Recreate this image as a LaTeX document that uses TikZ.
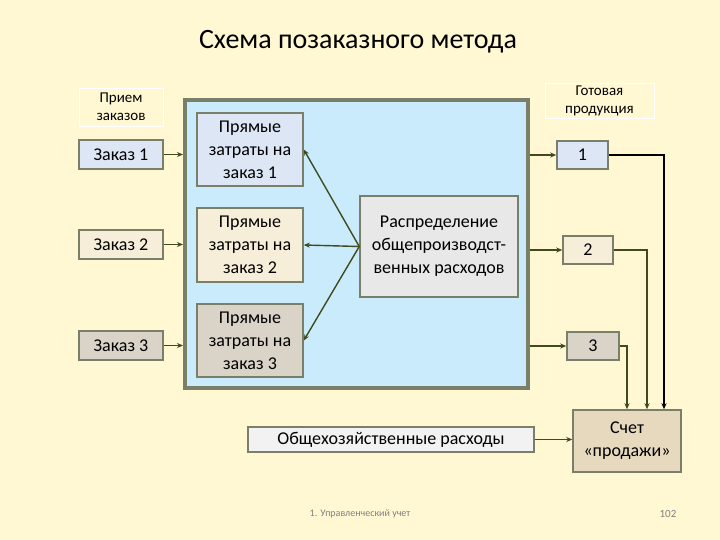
\documentclass[tikz,border=0pt]{standalone}
\usepackage{fontspec}
\setmainfont{Carlito}
\usetikzlibrary{arrows.meta}
\definecolor{bg}{HTML}{FFF8D2}
\definecolor{big}{HTML}{C9EBFB}
\definecolor{frm}{HTML}{7A7F6A}
\definecolor{cb}{HTML}{DCE6F5}
\definecolor{cc}{HTML}{F7EED9}
\definecolor{cg}{HTML}{D9D3C8}
\definecolor{cs}{HTML}{E6D9BE}
\definecolor{ln}{HTML}{3F4A1E}
\begin{document}
\begin{tikzpicture}[x=1pt,y=-1pt,
 bx/.style={draw=frm,line width=1.5pt,align=center,inner sep=0pt,font=\fontsize{18}{23}\selectfont},
 lab/.style={draw=white,line width=0.8pt,align=center,inner sep=0pt,font=\fontsize{15}{18}\selectfont},
 ar/.style={draw=ln,line width=1.4pt,-{Stealth[length=6pt,width=5pt]}}]
\fill[bg] (0,0) rectangle (720,540);
\useasboundingbox (0,0) rectangle (720,540);
\node[font=\fontsize{28}{30}\selectfont] (t) at (358,42) {Схема позаказного метода};
\node[draw=frm,line width=4pt,fill=big,minimum width=343pt,minimum height=288pt,inner sep=0pt] (B) at (356.5,244) {};
\node[lab,minimum width=84pt,minimum height=38pt] (pz) at (121,107) {Прием\\заказов};
\node[bx,fill=cb,minimum width=84pt,minimum height=29pt] (z1) at (121,154.5) {Заказ 1};
\node[bx,fill=cc,minimum width=84pt,minimum height=29pt] (z2) at (121,244.5) {Заказ 2};
\node[bx,fill=cg,minimum width=84pt,minimum height=29pt] (z3) at (121,345.5) {Заказ 3};
\node[bx,fill=cb,minimum width=106pt,minimum height=73pt] (p1) at (250,149.5) {Прямые\\затраты на\\заказ 1};
\node[bx,fill=cc,minimum width=106pt,minimum height=74pt] (p2) at (250,245) {Прямые\\затраты на\\заказ 2};
\node[bx,fill=cg,minimum width=106pt,minimum height=73pt] (p3) at (250,340.5) {Прямые\\затраты на\\заказ 3};
\node[bx,fill=gray!18,minimum width=158pt,minimum height=101pt] (R) at (439,246.5) {Распределение\\общепроизводст-\\венных расходов};
\node[lab,minimum width=109pt,minimum height=35pt] (gp) at (599.5,100.5) {Готовая\\продукция};
\node[bx,fill=cb,minimum width=51pt,minimum height=28pt] (g1) at (582.5,155) {1};
\node[bx,fill=cc,minimum width=50pt,minimum height=28pt] (g2) at (588,250) {2};
\node[bx,fill=cg,minimum width=52pt,minimum height=28pt] (g3) at (593,346) {3};
\node[bx,fill=gray!10,minimum width=286pt,minimum height=25pt] (O) at (391,439.5) {Общехозяйственные расходы};
\node[bx,fill=cs,minimum width=108pt,minimum height=62pt] (S) at (627,441) {Счет\\«продажи»};
\draw[ar] (z1.east) -- (z1.east -| B.west);
\draw[ar] (z2.east) -- (z2.east -| B.west);
\draw[ar] (z3.east) -- (z3.east -| B.west);
\draw[ar] (g1.west -| B.east) -- (g1.west);
\draw[ar] (g2.west -| B.east) -- (g2.west);
\draw[ar] (g3.west -| B.east) -- (g3.west);
\draw[ar] (R.west) -- (p1.east);
\draw[ar] (R.west) -- (p2.east);
\draw[ar] (R.west) -- (p3.east);
\draw[ar,draw=black,line width=1.6pt] (g1.east) -| (S.north -| 664,0);
\draw[ar] (g2.east) -| (S.north -| 647,0);
\draw[ar] (g3.east) -| (S.north -| 627,0);
\draw[ar] (O.east) -- (S.west |- O.east);
\node[font=\fontsize{10}{12}\selectfont,text=gray] (f1) at (360,514) {1. Управленческий учет};
\node[font=\fontsize{11}{12}\selectfont,text=gray] (f2) at (668,514) {102};
\end{tikzpicture}
\end{document}
